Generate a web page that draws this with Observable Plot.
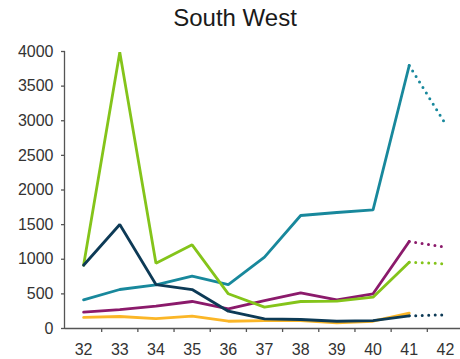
<!DOCTYPE html>
<html>
<head>
<meta charset="utf-8">
<script src="https://cdn.jsdelivr.net/npm/d3@7"></script>
<script src="https://cdn.jsdelivr.net/npm/@observablehq/plot@0.6"></script>
<style>
  body { margin: 0; background: #fff; font-family: "Liberation Sans", Arial, sans-serif; }
  #wrap { width: 460px; height: 359px; position: relative; overflow: hidden; }
  #title { position: absolute; left: 0; top: 4px; width: 470px; text-align: center; font-size: 24px; line-height: 28px; color: #1a1a1a; }
  #chart { position: absolute; left: 0; top: 40px; }
</style>
</head>
<body>
<div id="wrap">
  <div id="title">South West</div>
  <div id="chart"></div>
</div>
<script>
const weeks = [32, 33, 34, 35, 36, 37, 38, 39, 40, 41];
const projWeeks = [41, 42];
const xTicks = [32, 33, 34, 35, 36, 37, 38, 39, 40, 41, 42];
const yTicks = [0, 500, 1000, 1500, 2000, 2500, 3000, 3500, 4000];

const seriesNames = ["Series 1", "Series 2", "Series 3", "Series 4", "Series 5"];
const seriesColors = ["#fbb627", "#8b1a6b", "#18889c", "#84c41a", "#0d3a56"];

const series1 = [160, 173, 144, 178, 105, 115, 115, 82, 105, 221];
const series2 = [236, 274, 322, 390, 284, 404, 515, 414, 501, 1256];
const series3 = [414, 563, 631, 755, 635, 1030, 1632, 1675, 1714, 3798];
const series4 = [914, 3990, 943, 1208, 501, 308, 390, 394, 452, 957];
const series5 = [914, 1502, 635, 563, 250, 140, 130, 105, 115, 183];

const proj2 = [1256, 1174];
const proj3 = [3798, 2956];
const proj4 = [957, 934];
const proj5 = [183, 198];

const actual = [];
[series1, series2, series3, series4, series5].forEach((vals, i) => {
  vals.forEach((v, j) => actual.push({series: seriesNames[i], week: weeks[j], value: v}));
});
const projected = [];
[[seriesNames[1], proj2], [seriesNames[2], proj3], [seriesNames[3], proj4], [seriesNames[4], proj5]].forEach(([s, vals]) => {
  vals.forEach((v, j) => projected.push({series: s, week: projWeeks[j], value: v}));
});
const halfTicks = xTicks.slice(0, -1).map(d => d + 0.5);

const plot = Plot.plot({
  width: 460,
  height: 319,
  marginLeft: 65,
  marginRight: -3,
  marginTop: 11,
  marginBottom: 31,
  style: {fontFamily: '"Liberation Sans", Arial, sans-serif', color: "#333", overflow: "visible"},
  x: {type: "linear", domain: [31.5, 42.5]},
  y: {domain: [0, 4000]},
  color: {domain: seriesNames, range: seriesColors},
  marks: [
    Plot.axisY({ticks: yTicks, tickSize: 4, tickPadding: 8, fontSize: 16, label: null, stroke: "#555", strokeWidth: 1.3, tickFormat: d => String(d), color: "#333"}),
    Plot.axisX({ticks: xTicks, tickSize: 0, tickPadding: 15, fontSize: 16, label: null, tickFormat: d => String(d), color: "#333"}),
    Plot.axisX({ticks: halfTicks, tickSize: 4, label: null, tickFormat: () => "", stroke: "#555", strokeWidth: 1.3}),
    Plot.ruleY([0], {stroke: "#555", strokeWidth: 1.3}),
    Plot.ruleX([31.5], {y1: 0, y2: 4000, stroke: "#555", strokeWidth: 1.3, dx: -1}),
    Plot.line(projected, {x: "week", y: "value", z: "series", stroke: "series", strokeWidth: 3, strokeDasharray: "0 6.5", strokeLinecap: "round"}),
    Plot.line(actual, {x: "week", y: "value", z: "series", stroke: "series", strokeWidth: 2.8, strokeLinejoin: "miter"})
  ]
});
document.getElementById("chart").appendChild(plot);
</script>
</body>
</html>
